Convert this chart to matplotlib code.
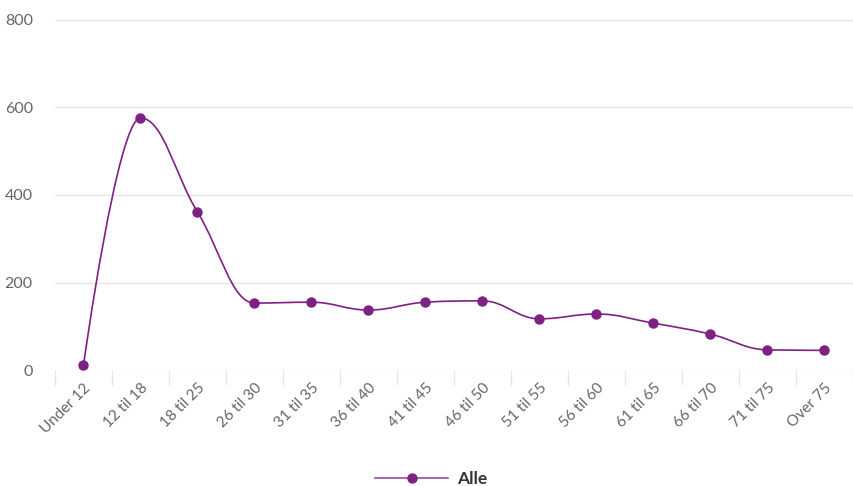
import numpy as np
import matplotlib
matplotlib.use("Agg")
import matplotlib.pyplot as plt
from matplotlib.path import Path
from matplotlib.patches import PathPatch
from matplotlib.lines import Line2D

# Data
categories = ["Under 12", "12 til 18", "18 til 25", "26 til 30", "31 til 35",
              "36 til 40", "41 til 45", "46 til 50", "51 til 55", "56 til 60",
              "61 til 65", "66 til 70", "71 til 75", "Over 75"]
values = [11, 576, 361, 153, 155, 137, 155, 158, 117, 128, 107, 82, 46, 45]
series_name = "Alle"
yticks = [0, 200, 400, 600, 800]

color = "#7d2182"
plt.rcParams['font.family'] = ['Lato', 'DejaVu Sans']

fig = plt.figure(figsize=(8.54, 4.86), dpi=100)
ax = fig.add_axes([55 / 854, 116 / 486, 798 / 854, 350 / 486])
x = np.arange(len(categories))
ax.set_xlim(-0.5, len(categories) - 0.5)
ax.set_ylim(0, 800)


def spline_path(ax, xs, ys, smoothing=1.5):
    # smooth curve through the points, control points computed in pixels
    pts = ax.transData.transform(np.column_stack([xs, ys]))
    n = len(pts)
    rc = [None] * n
    lc = [None] * n
    d = smoothing + 1
    for i in range(1, n - 1):
        px, py = pts[i]
        lx, ly = pts[i - 1]
        nx, ny = pts[i + 1]
        lcx, lcy = (smoothing * px + lx) / d, (smoothing * py + ly) / d
        rcx, rcy = (smoothing * px + nx) / d, (smoothing * py + ny) / d
        corr = (rcy - lcy) * (rcx - px) / (rcx - lcx) + py - rcy
        lcy += corr
        rcy += corr
        if lcy > ly and lcy > py:
            lcy = max(ly, py)
            rcy = 2 * py - lcy
        elif lcy < ly and lcy < py:
            lcy = min(ly, py)
            rcy = 2 * py - lcy
        if rcy > ny and rcy > py:
            rcy = max(ny, py)
            lcy = 2 * py - rcy
        elif rcy < ny and rcy < py:
            rcy = min(ny, py)
            lcy = 2 * py - rcy
        lc[i] = (lcx, lcy)
        rc[i] = (rcx, rcy)
    verts = [tuple(pts[0])]
    codes = [Path.MOVETO]
    for i in range(1, n):
        c1 = rc[i - 1] if rc[i - 1] is not None else tuple(pts[i - 1])
        c2 = lc[i] if lc[i] is not None else tuple(pts[i])
        verts += [c1, c2, tuple(pts[i])]
        codes += [Path.CURVE4] * 3
    verts = ax.transData.inverted().transform(np.array(verts))
    return Path(verts, codes)


path = spline_path(ax, x, values)
ax.add_patch(PathPatch(path, facecolor="none", edgecolor=color, lw=1.2, zorder=3))
ax.plot(x, values, linestyle="none", marker="o", markersize=6.5, color=color, zorder=4)

# grid and axes
ax.set_yticks(yticks)
ax.yaxis.grid(True, color="#e6e6e6", lw=1)
ax.set_axisbelow(True)
for s in ax.spines.values():
    s.set_visible(False)
ax.tick_params(axis="y", length=0, pad=16, labelsize=11.5, labelcolor="#666666")

ax.set_xticks(np.arange(-0.5, len(categories), 1.0))
ax.set_xticklabels([])
ax.tick_params(axis="x", which="major", length=11, color="#e6e6e6", width=1)
ax.set_xticks(x, minor=True)
ax.set_xticklabels(categories, minor=True, rotation=45, ha="right",
                   rotation_mode="anchor", fontsize=11, color="#666666")
ax.tick_params(axis="x", which="minor", length=0, pad=8)

handle = Line2D([], [], color="#9a4ba6", lw=1.2, marker="o", markersize=6.5,
                markerfacecolor=color, markeredgecolor=color)
leg = fig.legend([handle], [series_name], loc="center", bbox_to_anchor=(431 / 854, 1 - 479 / 486),
                 frameon=False, handlelength=4.2, handletextpad=0.5, numpoints=1,
                 prop={"size": 12.5, "weight": "bold"})
for t in leg.get_texts():
    t.set_color("#333333")

fig.savefig("out.png", dpi=100)
